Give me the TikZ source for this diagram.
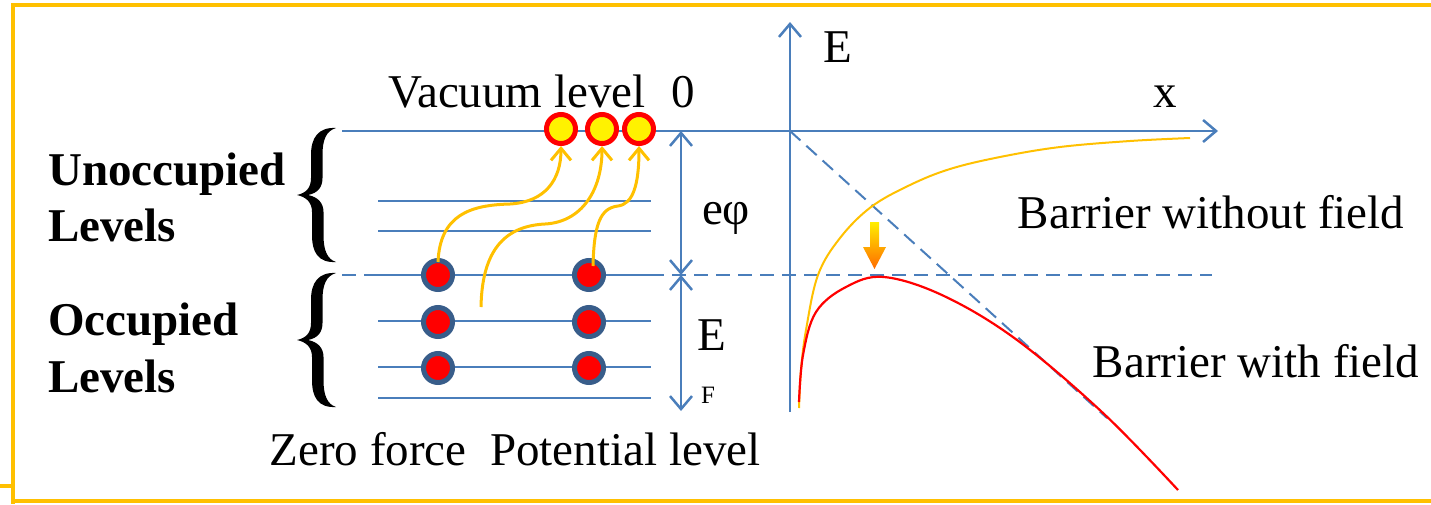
\documentclass[tikz,border=0pt]{standalone}
\usepackage{fontspec}
\setmainfont{Liberation Serif}
\usetikzlibrary{arrows.meta}
\definecolor{frameor}{HTML}{FFC000}
\definecolor{lblue}{HTML}{4A7EBB}
\definecolor{eblue}{HTML}{385D8A}
\definecolor{arrtop}{HTML}{FFEE00}
\definecolor{arrbot}{HTML}{FF6A00}
\newcommand\txtL{\fontsize{47}{52}\selectfont}
\newcommand\txtS{\fontsize{25}{30}\selectfont}
\newcommand\bracefill{%
  \fill (336,-67) .. controls (318,-68) and (311,-57) .. (311,-40) -- (311,-17)
    .. controls (311,-7) and (306,-2) .. (297,0)
    .. controls (306,2) and (312,7) .. (312,17) -- (312,40)
    .. controls (312,57) and (318,68) .. (336,67)
    .. controls (327,64) and (323.5,55) .. (323.5,40) -- (323.5,17)
    .. controls (323.5,8) and (318,2) .. (308,0)
    .. controls (318,-2) and (322.5,-8) .. (322.5,-17) -- (322.5,-40)
    .. controls (322.5,-55) and (326,-64) .. (336,-67) -- cycle;}
\tikzset{
  bt/.tip={Straight Barb[length=13pt,width=22pt,line width=2.5pt]},
  otip/.tip={Straight Barb[length=12pt,width=20pt,line width=3pt]}}
\begin{document}
\begin{tikzpicture}[x=1pt,y=-1pt,
  framel/.style={frameor,line width=4pt},
  level/.style={lblue,line width=2pt},
  dashlev/.style={lblue,line width=2pt,dash pattern=on 14pt off 8pt},
  bluebarb/.style={lblue,line width=2.5pt},
  oarrow/.style={frameor,line width=3pt,-{otip}},
  elec/.style={circle,draw=eblue,fill=red,line width=5pt,minimum size=29pt,inner sep=0pt},
  vacel/.style={circle,draw=red,fill=yellow,line width=5pt,minimum size=29pt,inner sep=0pt},
  lbl/.style={font=\txtL,inner sep=0pt,anchor=base},
  blbl/.style={font=\txtL\bfseries,inner sep=0pt,anchor=base west}]
\useasboundingbox (0,0) rectangle (1431,504);
% frame
\draw[framel] (1431,5) -- (13,5) -- (13,504);
\draw[framel] (13,501) -- (1431,501);
\draw[framel] (0,486) -- (13,486);
% levels
\draw[level] (342,131) -- (790,131);
\draw[level] (378,201) -- (651,201);
\draw[level] (378,231) -- (651,231);
\draw[dashlev] (342,275) -- (1212,275);
\draw[level] (378,275) -- (651,275);
\draw[level] (378,321) -- (651,321);
\draw[level] (378,367) -- (651,367);
\draw[level] (378,398) -- (651,398);
% axes
\coordinate (o) at (790,131);
\coordinate (ytop) at (790,22);
\coordinate (ybot) at (790,412);
\coordinate (xend) at (1218,131);
\draw[bluebarb,-{bt}] (ybot) -- (ytop);
\draw[bluebarb,-{bt}] (o) -- (xend);
% e phi and E_F arrows
\coordinate (pv) at (681,131);
\coordinate (pf) at (681,275);
\coordinate (pb) at (681,411);
\draw[bluebarb,{bt}-{bt}] (pv) -- (pf);
\draw[bluebarb,{bt}-{bt}] (pf) -- (pb);
% diagonal dashed
\coordinate (dend) at (1107,418);
\draw[dashlev] (o) -- (dend);
% barrier curves
\draw[frameor,line width=2pt] plot[smooth,tension=0.6] coordinates {(799,408) (801,370) (806,330) (818,275) (840,238) (871,207) (910,185) (950,169) (1000,157) (1060,147) (1130,141) (1190,138)};
\draw[red,line width=2.2pt] plot[smooth,tension=0.6] coordinates {(799,402) (803,355) (816,312) (846,287) (884,277) (944,296) (1017,340) (1103,413) (1178,490)};
% small gradient arrow
\shade[top color=arrtop,bottom color=arrbot] (870,222) -- (879,222) -- (879,247) -- (886,247) -- (874.5,269) -- (863,247) -- (870,247) -- cycle;
% electrons
\node[elec] (a1) at (438,275) {};
\node[elec] (a2) at (438,322) {};
\node[elec] (a3) at (438,368) {};
\node[elec] (b1) at (589,275) {};
\node[elec] (b2) at (589,322) {};
\node[elec] (b3) at (589,368) {};
\node[vacel] (v1) at (561,129) {};
\node[vacel] (v2) at (602,129) {};
\node[vacel] (v3) at (639,129) {};
% excitation arrows
\coordinate (s1) at (438,262);
\coordinate (s2) at (481,307);
\coordinate (s3) at (593,266);
\draw[oarrow] (s1) .. controls (440,215) and (470,205) .. (510,204) .. controls (545,202) and (561,180) .. (v1.south);
\draw[oarrow] (s2) .. controls (482,250) and (505,226) .. (545,224) .. controls (582,222) and (602,190) .. (v2.south);
\draw[oarrow] (s3) .. controls (594,225) and (600,208) .. (618,206) .. controls (633,204) and (639,185) .. (v3.south);
% braces
\begin{scope}[shift={(0,195)}]\bracefill\end{scope}
\begin{scope}[shift={(0,340)}]\bracefill\end{scope}
% texts
\node[lbl] (tvl) at (517,107) {Vacuum level};
\node[lbl] (tzero) at (683,107) {0};
\node[lbl] (tE) at (838,62) {E};
\node[lbl] (tx) at (1165,107) {x};
\node[lbl] (tephi) at (726,224) {eφ};
\node[lbl] (tEF) at (712,350) {E};
\node[font=\txtS,inner sep=0pt,anchor=base] (tF) at (708,403) {F};
\node[lbl] (tbw) at (1211,228) {Barrier without field};
\node[lbl] (tbf) at (1256,377) {Barrier with field};
\node[lbl] (tzf) at (515,465) {Zero force~ Potential level};
\node[blbl] (tu1) at (48,185) {Unoccupied};
\node[blbl] (tu2) at (48,241) {Levels};
\node[blbl] (to1) at (48,335) {Occupied};
\node[blbl] (to2) at (48,392) {Levels};
\end{tikzpicture}
\end{document}
